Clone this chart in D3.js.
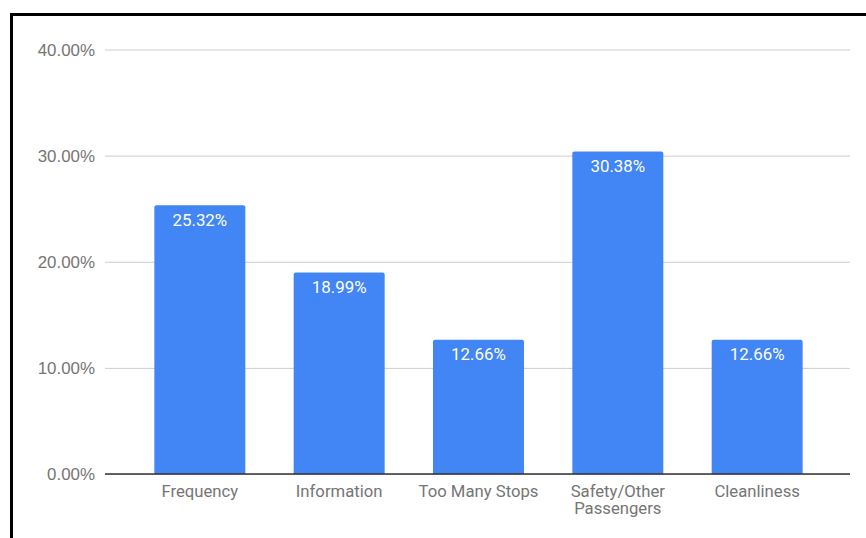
<!DOCTYPE html>
<html><head><meta charset="utf-8">
<script src="https://cdn.jsdelivr.net/npm/d3@7"></script>
<style>body{margin:0;background:#fff;}svg{display:block;font-family:Roboto,"Noto Sans",sans-serif;}</style>
</head><body>
<svg id="c" width="866" height="538"></svg>
<script>
const categories = ["Frequency", "Information", "Too Many Stops", "Safety/Other Passengers", "Cleanliness"];
const categoryLines = [["Frequency"], ["Information"], ["Too Many Stops"], ["Safety/Other", "Passengers"], ["Cleanliness"]];
const values = [25.32, 18.99, 12.66, 30.38, 12.66];
const yTicks = [0, 10, 20, 30, 40];

(function () {
const svg = d3.select("#c");
svg.append("rect").attr("x", 11.5).attr("y", 14.5).attr("width", 900).attr("height", 600)
  .attr("fill", "#fff").attr("stroke", "#000").attr("stroke-width", 3);

const pLeft = 105, pRight = 850, pTop = 49.5, pBottom = 474;
const x = d3.scaleBand().domain(categories).range([pLeft + 1, pRight + 1]).paddingInner(0.347).paddingOuter(0.347);
const y = d3.scaleLinear().domain([0, 40]).range([pBottom, pTop]);

const yAxis = d3.axisLeft(y).tickValues(yTicks).tickSize(-(pRight - pLeft)).tickPadding(10)
  .tickFormat(d => d.toFixed(2) + "%");
const gy = svg.append("g").attr("transform", `translate(${pLeft},0)`).call(yAxis);
gy.select(".domain").remove();
gy.selectAll(".tick line").attr("stroke", "#cccccc").attr("stroke-width", 1);
gy.selectAll(".tick text").attr("fill", "#757575").style("font-size", "16.9px").attr("dy", "0.34em");

const r = 2;
svg.append("g").selectAll("path").data(values).join("path")
  .attr("fill", "#4285F4")
  .attr("d", (d, i) => {
    const x0 = x(categories[i]), w = x.bandwidth(), y0 = y(d), y1 = y(0);
    return `M${x0},${y1}V${y0 + r}Q${x0},${y0} ${x0 + r},${y0}H${x0 + w - r}Q${x0 + w},${y0} ${x0 + w},${y0 + r}V${y1}Z`;
  });

svg.append("line").attr("x1", pLeft).attr("x2", pRight).attr("y1", pBottom).attr("y2", pBottom)
  .attr("stroke", "#333").attr("stroke-width", 1.5);

svg.append("g").selectAll("text").data(values).join("text")
  .attr("x", (d, i) => x(categories[i]) + x.bandwidth() / 2)
  .attr("y", d => y(d) + 20.5)
  .attr("text-anchor", "middle").attr("fill", "#fff").style("font-size", "16.9px")
  .text(d => d.toFixed(2) + "%");

const xl = svg.append("g").selectAll("text").data(categoryLines).join("text")
  .attr("text-anchor", "middle").attr("fill", "#757575").style("font-size", "16.7px")
  .attr("x", (d, i) => x(categories[i]) + x.bandwidth() / 2)
  .attr("y", 497);
xl.selectAll("tspan").data(d => d).join("tspan")
  .attr("x", function() { return d3.select(this.parentNode).attr("x"); })
  .attr("dy", (d, j) => j === 0 ? 0 : 17)
  .text(d => d);
})();
</script>
</body></html>
